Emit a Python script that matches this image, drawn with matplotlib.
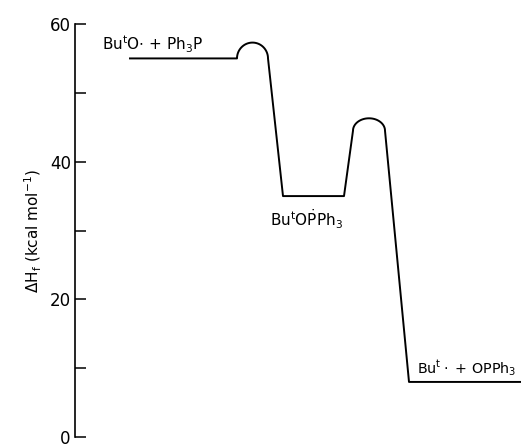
import matplotlib.pyplot as plt
import numpy as np

plt.rcParams['font.family'] = ['DejaVu Sans']
plt.rcParams['mathtext.default'] = 'regular'

# energies (kcal/mol)
species = [r'Bu$^{t}$O$\cdot$ + Ph$_3$P', r'Bu$^{t}$O$\dot{P}$Ph$_3$', r'Bu$^{t}\cdot$ + OPPh$_3$']
levels = [55, 35, 8]
barriers = [57.3, 46.3]
barrier_base = [55, 44.5]

# horizontal layout of the schematic (reaction coordinate, arbitrary units)
lvl_x = [(55, 162), (208, 269), (334, 470)]
dome_x = [(162, 193), (278, 310)]


def dome(x0, x1, base, top, n=40):
    t = np.linspace(np.pi, 0, n)
    xc = (x0 + x1) / 2
    r = (x1 - x0) / 2
    return xc + r * np.cos(t), base + (top - base) * np.sin(t)


xs, ys = [], []
xs += list(lvl_x[0]); ys += [levels[0], levels[0]]
dx, dy = dome(dome_x[0][0], dome_x[0][1], barrier_base[0], barriers[0])
xs += list(dx); ys += list(dy)
xs += list(lvl_x[1]); ys += [levels[1], levels[1]]
dx, dy = dome(dome_x[1][0], dome_x[1][1], barrier_base[1], barriers[1])
xs += list(dx); ys += list(dy)
xs += list(lvl_x[2]); ys += [levels[2], levels[2]]

fig = plt.figure(figsize=(5.21, 4.47), dpi=100)
ax = fig.add_axes([75 / 521, 10 / 447, 446 / 521, 413 / 447])
ax.plot(xs, ys, color='black', lw=1.4, solid_joinstyle='round')

ax.text(27, levels[0] + 0.5, species[0], fontsize=11, va='bottom', ha='left')
ax.text(195, 31.6, species[1], fontsize=11, va='center', ha='left')
ax.text(342, levels[2] + 0.5, species[2], fontsize=10.3, va='bottom', ha='left')

ax.set_xlim(0, 446)
ax.set_ylim(0, 60)
for s in ['top', 'right', 'bottom']:
    ax.spines[s].set_visible(False)
ax.spines['left'].set_linewidth(1.2)
ax.set_xticks([])
ax.set_yticks([0, 20, 40, 60])
ax.set_yticks([10, 30, 50], minor=True)
ax.tick_params(axis='y', which='both', direction='in', length=8, width=1.1, labelsize=12, pad=3)
ax.set_ylabel(r'$\Delta$H$_f$ (kcal mol$^{-1}$)', fontsize=11, labelpad=4)

fig.savefig('out.png', dpi=100)
